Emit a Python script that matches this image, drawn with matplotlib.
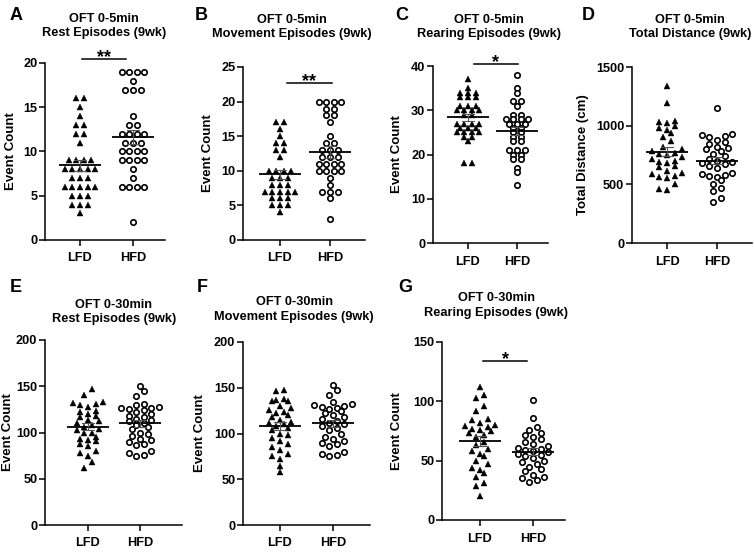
import numpy as np
import matplotlib
matplotlib.use('Agg')
import matplotlib.pyplot as plt

plt.rcParams['font.family'] = ['Liberation Sans', 'DejaVu Sans']
plt.rcParams['font.weight'] = 'bold'
plt.rcParams['axes.labelweight'] = 'bold'

# ---------------- data ----------------
groups = ['LFD', 'HFD']

a_lfd = [16, 16, 15, 14, 13, 13, 12, 12, 11, 9, 9, 9, 9, 8, 8, 8, 8, 8, 7, 7, 7,
         6, 6, 6, 6, 6, 5, 5, 5, 4, 4, 4, 3]
a_hfd = [19, 19, 19, 19, 18, 17, 17, 17, 14, 13, 13, 12, 12, 12, 12, 11, 11, 11,
         10, 10, 10, 10, 9, 9, 9, 9, 8, 7, 6, 6, 6, 6, 2]
b_lfd = [17, 17, 16, 15, 14, 14, 13, 13, 12, 10, 10, 10, 10, 9, 9, 9, 8, 8, 8,
         7, 7, 7, 7, 7, 6, 6, 6, 5, 5, 5, 4]
b_hfd = [20, 20, 20, 20, 19, 19, 18, 18, 17, 15, 14, 14, 13, 13, 13, 12, 12, 12,
         11, 11, 11, 11, 10, 10, 10, 10, 9, 8, 7, 7, 7, 6, 3]
c_lfd = [37, 35, 34, 34, 34, 33, 33, 33, 31, 31, 31, 30, 30, 30, 30, 29, 29, 27,
         27, 27, 27, 26, 26, 26, 25, 25, 25, 25, 24, 24, 23, 18, 18]
c_hfd = [38, 35, 34, 32, 32, 31, 29, 29, 28, 28, 28, 28, 27, 27, 27, 26, 26, 25,
         25, 24, 24, 23, 23, 21, 21, 21, 20, 20, 19, 19, 17, 16, 13]
d_lfd = [1340, 1190, 1040, 1030, 1020, 1000, 980, 960, 940, 900, 870, 820, 800,
         780, 770, 760, 750, 730, 720, 700, 690, 680, 660, 650, 610, 600, 590,
         570, 560, 550, 500, 460, 450]
d_hfd = [1150, 930, 920, 910, 900, 880, 860, 840, 820, 810, 800, 780, 760, 740,
         720, 700, 690, 680, 670, 660, 640, 600, 590, 580, 570, 560, 540, 500,
         470, 440, 380, 350]
e_lfd = [147, 141, 133, 132, 131, 130, 128, 123, 122, 120, 118, 117, 113, 112,
         110, 108, 106, 104, 103, 100, 99, 95, 93, 92, 91, 88, 85, 80, 78, 75,
         68, 62]
e_hfd = [150, 145, 140, 131, 130, 128, 127, 126, 125, 124, 122, 120, 118, 117,
         115, 113, 112, 110, 108, 106, 104, 100, 98, 96, 93, 92, 90, 88, 86, 80,
         78, 76, 75]
f_lfd = [148, 146, 138, 137, 136, 135, 130, 128, 126, 124, 122, 120, 118, 115,
         113, 111, 110, 108, 106, 104, 100, 98, 95, 92, 88, 85, 82, 78, 75, 72,
         65, 58]
f_hfd = [153, 148, 142, 134, 132, 131, 130, 129, 128, 127, 125, 122, 120, 118,
         116, 114, 112, 110, 108, 106, 104, 100, 96, 94, 92, 90, 88, 86, 80, 78,
         76, 75]
g_lfd = [112, 105, 103, 96, 92, 85, 84, 82, 80, 79, 78, 77, 76, 75, 73, 72, 70,
         66, 63, 60, 58, 56, 54, 50, 47, 44, 42, 40, 36, 31, 29, 20]
g_hfd = [101, 86, 78, 76, 73, 72, 70, 68, 66, 64, 62, 61, 60, 59, 58, 57, 56, 55,
         54, 52, 50, 49, 47, 45, 43, 41, 38, 36, 35, 34, 32]

a_yticks = [0, 5, 10, 15, 20]
b_yticks = [0, 5, 10, 15, 20, 25]
c_yticks = [0, 10, 20, 30, 40]
d_yticks = [0, 500, 1000, 1500]
e_yticks = [0, 50, 100, 150, 200]
f_yticks = [0, 50, 100, 150, 200]
g_yticks = [0, 50, 100, 150]

# ---------------- layout ----------------
W, H = 754, 553
fig = plt.figure(figsize=(W / 100, H / 100), dpi=100)

panels = [
    dict(letter='A', lxy=(10, 16), title=['OFT 0-5min', 'Rest Episodes (9wk)'], tx=104, ty=(19, 33),
         ylabel='Event Count', ylx=11, data=(a_lfd, a_hfd), yticks=a_yticks,
         box=(45, 165, 63, 240), xpx=(80, 133), sig=('**', 0.04, 0.87, 20.5)),
    dict(letter='B', lxy=(195, 16), title=['OFT 0-5min', 'Movement Episodes (9wk)'], tx=292, ty=(20, 34),
         ylabel='Event Count', ylx=208, data=(b_lfd, b_hfd), yticks=b_yticks,
         box=(243, 365, 67, 240), xpx=(280, 330), sig=('**', 0.14, 1.04, 22.7)),
    dict(letter='C', lxy=(395, 16), title=['OFT 0-5min', 'Rearing Episodes (9wk)'], tx=489, ty=(20, 34),
         ylabel='Event Count', ylx=397, data=(c_lfd, c_hfd), yticks=c_yticks,
         box=(433, 548, 66, 243), xpx=(468, 517), sig=('*', 0.12, 1.02, 40.45)),
    dict(letter='D', lxy=(582, 16), title=['OFT 0-5min', 'Total Distance (9wk)'], tx=690, ty=(20, 34),
         ylabel='Total Distance (cm)', ylx=583, data=(d_lfd, d_hfd), yticks=d_yticks,
         box=(632, 752, 67, 243), xpx=(667, 717), sig=None),
    dict(letter='E', lxy=(10, 288), title=['OFT 0-30min', 'Rest Episodes (9wk)'], tx=114, ty=(305, 319),
         ylabel='Event Count', ylx=8, data=(e_lfd, e_hfd), yticks=e_yticks,
         box=(45, 182, 340, 525), xpx=(88, 140), sig=None),
    dict(letter='F', lxy=(197, 288), title=['OFT 0-30min', 'Movement Episodes (9wk)'], tx=294, ty=(302, 317),
         ylabel='Event Count', ylx=200, data=(f_lfd, f_hfd), yticks=f_yticks,
         box=(243, 370, 342, 525), xpx=(280, 333), sig=None),
    dict(letter='G', lxy=(398, 287), title=['OFT 0-30min', 'Rearing Episodes (9wk)'], tx=496, ty=(298, 313),
         ylabel='Event Count', ylx=397, data=(g_lfd, g_hfd), yticks=g_yticks,
         box=(442, 565, 342, 520), xpx=(480, 533), sig=('*', 0.06, 0.89, 134)),
]

D = 7.6      # horizontal point spacing (px)
BIN_H = 6.0  # row height for continuous data (px)


def swarm(vals, ppv, d):
    """Prism-like column scatter: points grouped into rows, each row centred."""
    vals = np.asarray(vals, float)
    order = np.argsort(vals, kind='stable')
    rows = []
    if ppv >= 3:
        for v in sorted(set(vals)):
            rows.append(list(np.where(vals == v)[0]))
    else:
        start = None
        for i in order:
            if start is None or (vals[i] - start) * ppv >= BIN_H:
                rows.append([])
                start = vals[i]
            rows[-1].append(i)
    xs = np.zeros(len(vals))
    for row in rows:
        n = len(row)
        base = (np.arange(n) - (n - 1) / 2) * d
        # put points alternately around the centre
        srt = sorted(row, key=lambda i: vals[i])
        slots = sorted(range(n), key=lambda k: (abs(base[k]), base[k]))
        for i, k in zip(srt, slots):
            xs[i] = base[k]
    return xs


FS = 9.2
for p in panels:
    l, r, t, b = p['box']
    ax = fig.add_axes([l / W, 1 - b / H, (r - l) / W, (b - t) / H])
    x0, x1 = p['xpx']
    ppu = x1 - x0
    ymax = p['yticks'][-1]
    ax.set_xlim((l - x0) / ppu, (r - x0) / ppu)
    ax.set_ylim(0, ymax)
    ppv = (b - t) / ymax
    for gi, vals in enumerate(p['data']):
        offs = swarm(vals, ppv, D) / ppu
        if gi == 0:
            ax.plot(gi + offs, vals, linestyle='none', marker='^', markersize=4.8,
                    markerfacecolor='black', markeredgecolor='black', markeredgewidth=0.3,
                    clip_on=False, zorder=3)
        else:
            ax.plot(gi + offs, vals, linestyle='none', marker='o', markersize=3.9,
                    markerfacecolor='white', markeredgecolor='black', markeredgewidth=1.2,
                    clip_on=False, zorder=3)
        arr = np.asarray(vals, float)
        m = arr.mean()
        sem = arr.std(ddof=1) / np.sqrt(len(arr))
        hw = 21 / ppu
        cw = 6 / ppu
        ax.plot([gi - hw, gi + hw], [m, m], color='black', lw=1.3, zorder=5,
                solid_capstyle='butt')
        ax.plot([gi, gi], [m - sem, m + sem], color='#555555', lw=0.8, zorder=5)
        ax.plot([gi - cw, gi + cw], [m - sem, m - sem], color='#555555', lw=0.8, zorder=5)
        ax.plot([gi - cw, gi + cw], [m + sem, m + sem], color='#555555', lw=0.8, zorder=5)

    ax.set_xticks([0, 1])
    ax.set_xticklabels(groups, fontsize=FS, fontweight='bold')
    ax.set_yticks(p['yticks'])
    ax.set_yticklabels([str(v) for v in p['yticks']], fontsize=FS, fontweight='bold')
    for s in ['top', 'right']:
        ax.spines[s].set_visible(False)
    for s in ['left', 'bottom']:
        ax.spines[s].set_linewidth(1.1)
    ax.tick_params(axis='both', direction='out', length=4, width=1.1, color='black')
    ax.tick_params(axis='y', pad=1.5)
    ax.tick_params(axis='x', pad=5)
    ax.patch.set_alpha(0)

    # significance bar
    if p['sig'] is not None:
        stars, xa, xb, ys = p['sig']
        ax.plot([xa, xb], [ys, ys], color='black', lw=1.1, clip_on=False)
        ax.annotate(stars, xy=((xa + xb) / 2, ys), xytext=(0, -2.5), textcoords='offset points',
                    ha='center', va='baseline', fontsize=13, fontweight='bold',
                    annotation_clip=False)

    # titles, labels, letters
    fig.text(p['tx'] / W, 1 - p['ty'][0] / H, p['title'][0], ha='center', va='center',
             fontsize=FS, fontweight='bold')
    fig.text(p['tx'] / W, 1 - p['ty'][1] / H, p['title'][1], ha='center', va='center',
             fontsize=FS, fontweight='bold')
    fig.text(p['ylx'] / W, 1 - ((t + b) / 2) / H, p['ylabel'], rotation=90, ha='center',
             va='center', fontsize=9.5, fontweight='bold')
    fig.text(p['lxy'][0] / W, 1 - p['lxy'][1] / H, p['letter'], ha='left', va='center',
             fontsize=13, fontweight='bold')

fig.savefig('out.png', dpi=100, facecolor='white')
